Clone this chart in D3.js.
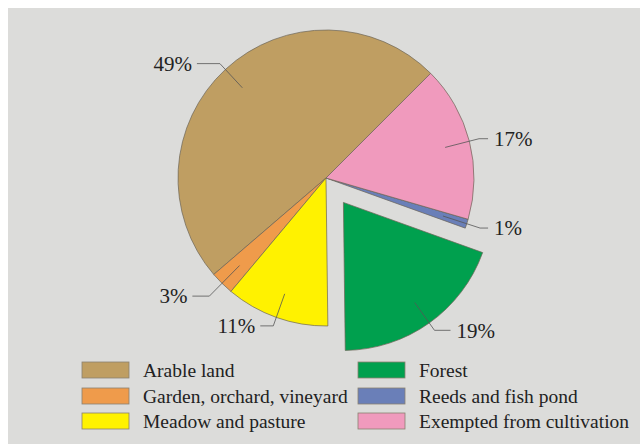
<!DOCTYPE html>
<html>
<head>
<meta charset="utf-8">
<script src="https://cdn.jsdelivr.net/npm/d3@7"></script>
<style>
html,body{margin:0;padding:0;background:#ffffff;}
svg{display:block;}
</style>
</head>
<body>
<svg id="chart" width="640" height="444"></svg>
<script>
const categories = ["Arable land","Garden, orchard, vineyard","Meadow and pasture","Forest","Reeds and fish pond","Exempted from cultivation"];
const values = [48.8, 2.6, 11.3, 19.3, 1.0, 17.0];
const colors = ["#bf9e62","#ef9b4b","#fff200","#00a04e","#6a7fb8","#f09abd"];
const exploded = [false,false,false,true,false,false];

// leader layout: elbow radius and horizontal run length (styling only)
const leaderElbowR = [156, 166, 157, 157, 162, 158];
const leaderRun = [23, 17, 13, 16, 8, 9];

const svg = d3.select("#chart");
svg.append("rect").attr("x",8).attr("y",8).attr("width",632).attr("height",436).attr("fill","#dcdcda");

const cx = 326, cy = 178, R = 148, explode = 30;
const deg = Math.PI/180;
const pie = d3.pie().sort(null).value(d=>d.v).startAngle(405*deg).endAngle(45*deg);
const data = categories.map((c,i)=>({c, v:values[i], col:colors[i], ex:exploded[i], i}));
const arcs = pie(data);
const arc = d3.arc().innerRadius(0).outerRadius(R);

const g = svg.append("g").attr("transform",`translate(${cx},${cy})`);
const font = "'Liberation Serif','Times New Roman',serif";

arcs.forEach(a=>{
  const mid = (a.startAngle + a.endAngle)/2;
  const off = a.data.ex ? explode : 0;
  const ox = Math.sin(mid)*off, oy = -Math.cos(mid)*off;
  const sg = g.append("g").attr("transform",`translate(${ox},${oy})`);
  sg.append("path").attr("d",arc(a)).attr("fill",a.data.col)
    .attr("stroke","#6b6456").attr("stroke-width",0.7);
});
arcs.forEach(a=>{
  const mid = (a.startAngle + a.endAngle)/2;
  const off = a.data.ex ? explode : 0;
  const ox = Math.sin(mid)*off, oy = -Math.cos(mid)*off;
  const sg = g.append("g").attr("transform",`translate(${ox},${oy})`);
  const rin = 123, rel = leaderElbowR[a.data.i];
  const p1 = [Math.sin(mid)*rin, -Math.cos(mid)*rin];
  const p2 = [Math.sin(mid)*rel, -Math.cos(mid)*rel];
  const right = Math.sin(mid) > 0;
  const run = leaderRun[a.data.i];
  const p3 = [p2[0] + (right?run:-run), p2[1]];
  sg.append("polyline").attr("points",[p1,p2,p3].map(p=>p.join(",")).join(" "))
    .attr("fill","none").attr("stroke","#555").attr("stroke-width",0.8);
  sg.append("text").attr("x",p3[0] + (right?6:-5)).attr("y",p3[1]).attr("dy","0.35em")
    .attr("text-anchor",right?"start":"end")
    .attr("font-family",font).attr("font-size",21).attr("fill","#222")
    .text(Math.round(a.data.v)+"%");
});

// legend
const legX = [82, 358], legY = [362, 388, 413];
data.forEach((d,i)=>{
  const col = Math.floor(i/3), row = i%3;
  const x = legX[col], y = legY[row];
  svg.append("rect").attr("x",x).attr("y",y).attr("width",47).attr("height",16)
    .attr("fill",d.col).attr("stroke","#8a8170").attr("stroke-width",0.8);
  svg.append("text").attr("x",x+61).attr("y",y+8).attr("dy","0.35em")
    .attr("font-family",font).attr("font-size",19.5).attr("fill","#222").text(d.c);
});
</script>
</body>
</html>
